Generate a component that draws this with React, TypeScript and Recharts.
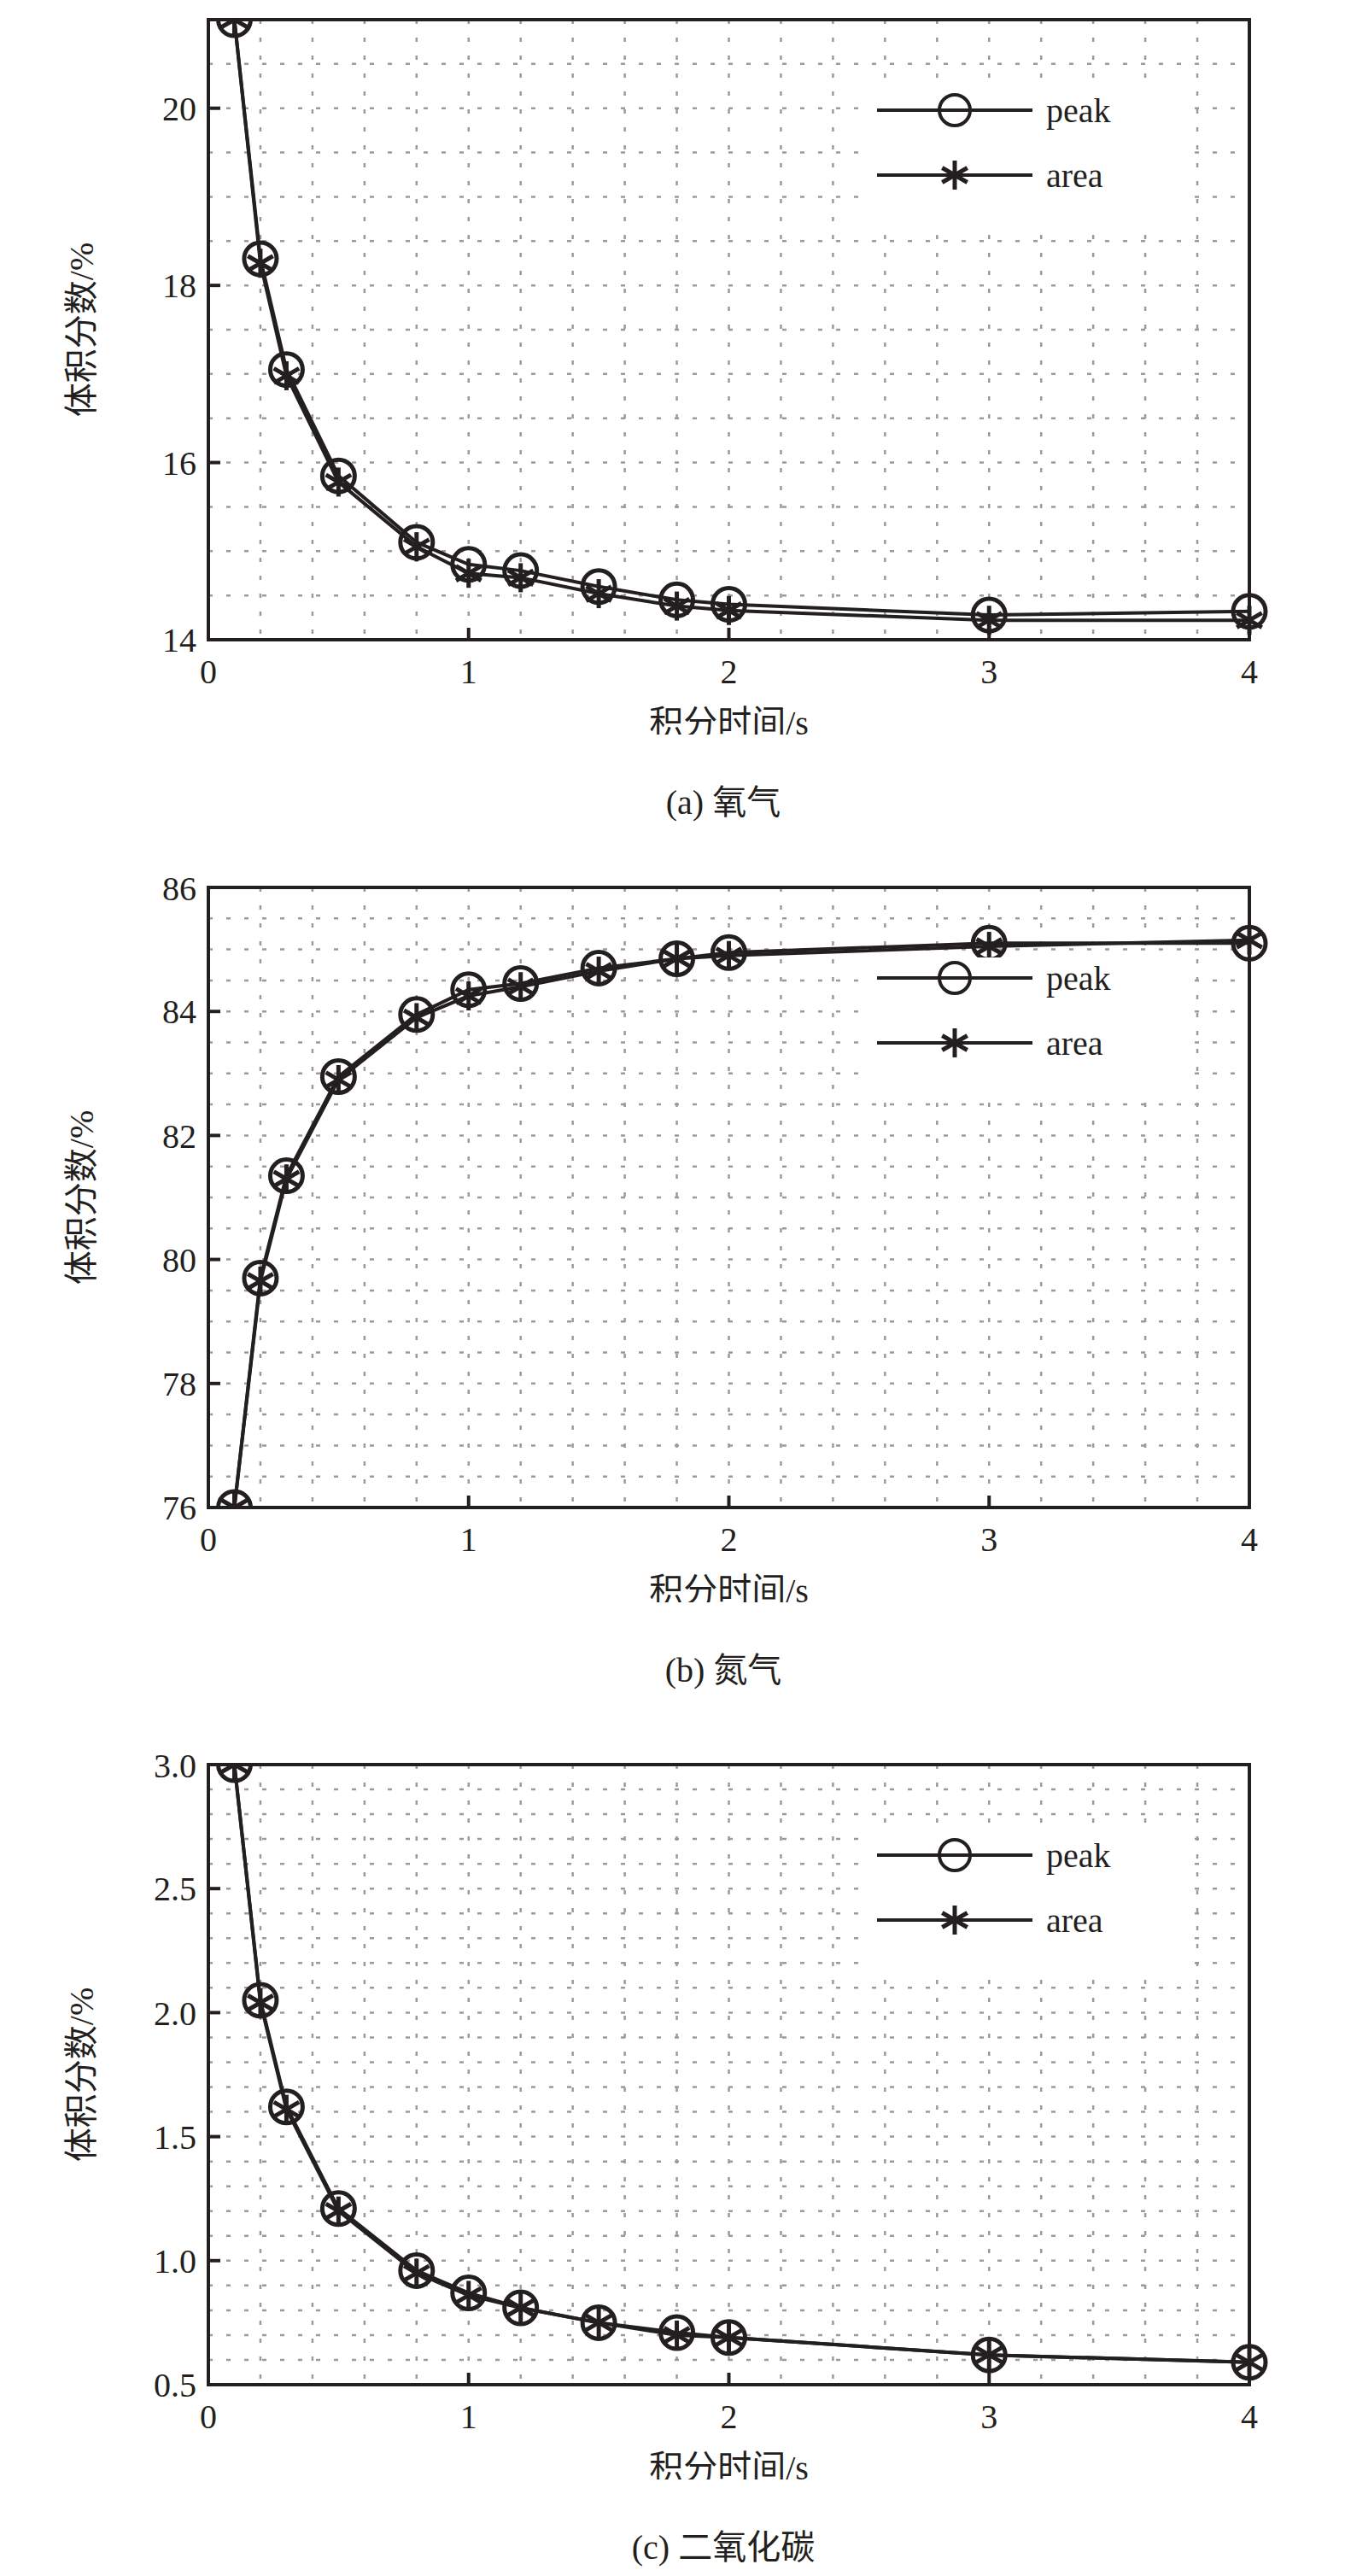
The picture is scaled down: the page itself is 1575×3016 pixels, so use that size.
import React from 'react';
import { LineChart, Line, XAxis, YAxis, CartesianGrid, ReferenceArea } from 'recharts';

const times = [0.1, 0.2, 0.3, 0.5, 0.8, 1, 1.2, 1.5, 1.8, 2, 3, 4];

const o2Peak = [21, 18.3, 17.05, 15.85, 15.1, 14.85, 14.78, 14.6, 14.45, 14.4, 14.28, 14.32];
const o2Area = [21, 18.25, 16.98, 15.78, 15.05, 14.75, 14.7, 14.52, 14.38, 14.33, 14.22, 14.22];
const n2Peak = [76, 79.7, 81.35, 82.95, 83.95, 84.35, 84.45, 84.7, 84.85, 84.95, 85.1, 85.1];
const n2Area = [76, 79.65, 81.3, 82.9, 83.9, 84.25, 84.4, 84.65, 84.85, 84.9, 85.05, 85.15];
const co2Peak = [3.0, 2.05, 1.62, 1.21, 0.96, 0.87, 0.81, 0.75, 0.71, 0.69, 0.62, 0.59];
const co2Area = [3.0, 2.04, 1.61, 1.2, 0.95, 0.86, 0.81, 0.75, 0.7, 0.69, 0.62, 0.59];

const xTicks = [0, 1, 2, 3, 4];
const xGrid = [0.2, 0.4, 0.6, 0.8, 1, 1.2, 1.4, 1.6, 1.8, 2, 2.2, 2.4, 2.6, 2.8, 3, 3.2, 3.4, 3.6, 3.8];

const FONT = '"Liberation Serif", "Times New Roman", "Noto Sans CJK SC", serif';
const INK = '#231f20';

function range(a: number, b: number, s: number) {
  const out: number[] = [];
  for (let v = a; v <= b + 1e-9; v += s) out.push(Math.round(v * 1000) / 1000);
  return out;
}

const CircleDot = (p: any) => (
  <circle key={`c${p.index}`} cx={p.cx} cy={p.cy} r={19} fill="none" stroke={INK} strokeWidth={5} />
);

const StarDot = (p: any) => {
  const r = 17;
  const lines = [0, 60, 120].map((a) => {
    const rad = (a * Math.PI) / 180;
    const dx = Math.sin(rad) * r;
    const dy = Math.cos(rad) * r;
    return <line key={a} x1={p.cx - dx} y1={p.cy - dy} x2={p.cx + dx} y2={p.cy + dy} stroke={INK} strokeWidth={5} />;
  });
  return <g key={`s${p.index}`}>{lines}</g>;
};

const LegendBox = () => (
  <svg width={390} height={170} style={{ display: 'block', background: '#fff' }}>
    <line x1={20} y1={24} x2={202} y2={24} stroke={INK} strokeWidth={4} />
    <circle cx={111} cy={24} r={18} fill="none" stroke={INK} strokeWidth={4} />
    <text x={218} y={38} fontFamily={FONT} fontSize={40} fill={INK}>peak</text>
    <line x1={20} y1={100} x2={202} y2={100} stroke={INK} strokeWidth={4} />
    {StarDot({ cx: 111, cy: 100, index: 0 })}
    <text x={218} y={114} fontFamily={FONT} fontSize={40} fill={INK}>area</text>
  </svg>
);

interface PanelProps {
  top: number;
  peak: number[];
  area: number[];
  yDomain: [number, number];
  yTicks: number[];
  yGrid: number[];
  decimals: number;
  caption: string;
}

function Panel({ top, peak, area, yDomain, yTicks, yGrid, decimals, caption }: PanelProps) {
  const data = times.map((t, i) => ({ t, peak: peak[i], area: area[i] }));
  return (
    <div style={{ position: 'absolute', left: 0, top, width: 1575, height: 1000 }}>
      <LineChart width={1575} height={860} data={data} margin={{ top: 23, right: 112, bottom: 0, left: 0 }}>
        <CartesianGrid
          horizontalValues={yGrid}
          verticalValues={xGrid}
          stroke="#9a9a9a"
          strokeWidth={2.5}
          strokeDasharray="5 16"
        />
        <XAxis
          dataKey="t"
          type="number"
          domain={[0, 4]}
          ticks={xTicks}
          height={111}
          tickSize={-14}
          tickMargin={37}
          axisLine={{ stroke: INK, strokeWidth: 4 }}
          tickLine={{ stroke: INK, strokeWidth: 4 }}
          tick={{ fontFamily: FONT, fontSize: 40, fill: INK }}
          label={{ value: '积分时间/s', position: 'insideBottom', offset: 0, fontFamily: FONT, fontSize: 40, fill: INK }}
        />
        <YAxis
          type="number"
          domain={yDomain}
          ticks={yTicks}
          width={244}
          allowDataOverflow
          tickSize={-14}
          tickMargin={28}
          tickFormatter={(v: number) => v.toFixed(decimals)}
          axisLine={{ stroke: INK, strokeWidth: 4 }}
          tickLine={{ stroke: INK, strokeWidth: 4 }}
          tick={{ fontFamily: FONT, fontSize: 40, fill: INK }}
          label={{ value: '体积分数/%', angle: -90, position: 'insideLeft', offset: 95, fontFamily: FONT, fontSize: 40, fill: INK, style: { textAnchor: 'middle' } }}
        />
        <ReferenceArea
          x1={0}
          x2={4}
          y1={yDomain[0]}
          y2={yDomain[1]}
          fill="none"
          stroke={INK}
          strokeWidth={4}
          ifOverflow="visible"
        />
        <Line dataKey="peak" stroke={INK} strokeWidth={4} dot={CircleDot} isAnimationActive={false} />
        <Line dataKey="area" stroke={INK} strokeWidth={4} dot={StarDot} isAnimationActive={false} />
      </LineChart>
      <div style={{ position: 'absolute', left: 1007, top: 23 + 82 }}>
        <LegendBox />
      </div>
      <div
        style={{
          position: 'absolute',
          left: 0,
          width: 1694,
          top: 907,
          textAlign: 'center',
          fontFamily: FONT,
          fontSize: 40,
          color: INK,
        }}
      >
        {caption}
      </div>
    </div>
  );
}

export default function App() {
  return (
    <div style={{ position: 'absolute', left: 0, top: 0, width: 1575, height: 3016, background: '#fff' }}>
      <Panel
        top={0}
        peak={o2Peak}
        area={o2Area}
        yDomain={[14, 21]}
        yTicks={[14, 16, 18, 20]}
        yGrid={range(14.5, 20.5, 0.5)}
        decimals={0}
        caption="(a) 氧气"
      />
      <Panel
        top={1016}
        peak={n2Peak}
        area={n2Area}
        yDomain={[76, 86]}
        yTicks={[76, 78, 80, 82, 84, 86]}
        yGrid={range(76.5, 85.5, 0.5)}
        decimals={0}
        caption="(b) 氮气"
      />
      <Panel
        top={2043}
        peak={co2Peak}
        area={co2Area}
        yDomain={[0.5, 3.0]}
        yTicks={[0.5, 1.0, 1.5, 2.0, 2.5, 3.0]}
        yGrid={range(0.6, 2.9, 0.1)}
        decimals={1}
        caption="(c) 二氧化碳"
      />
    </div>
  );
}
